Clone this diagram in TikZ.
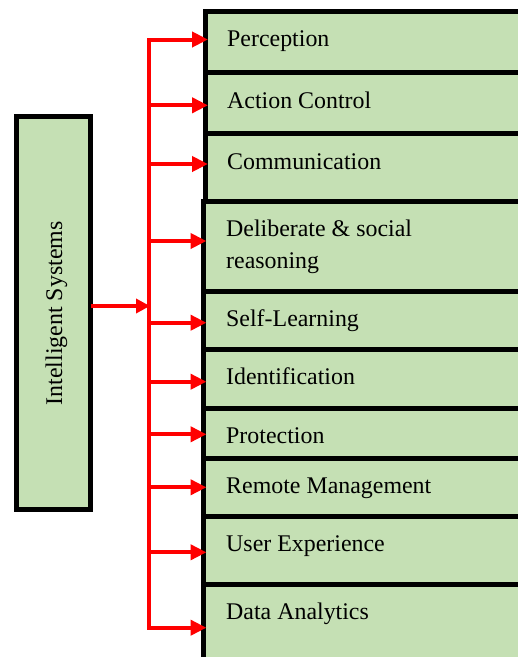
\documentclass[tikz,border=0pt]{standalone}
\usepackage{fontspec}
\setmainfont{Liberation Serif}
\usetikzlibrary{arrows.meta}
\definecolor{boxgreen}{RGB}{197,224,180}
\definecolor{linkred}{RGB}{255,0,0}
\begin{document}
\begin{tikzpicture}[x=1pt,y=-1pt,
  itembox/.style={draw=black,line width=5pt,fill=boxgreen,inner sep=0pt,outer sep=0pt,
    minimum width=340pt,anchor=north west},
  mainbox/.style={draw=black,line width=5pt,fill=boxgreen,inner sep=0pt,outer sep=0pt,
    minimum width=74pt,minimum height=393pt},
  label/.style={inner sep=0pt,anchor=base west,font=\fontsize{23.9}{32.3}\selectfont},
  bus/.style={linkred,line width=4pt},
  branch/.style={linkred,line width=4pt,-{Triangle[length=16pt,width=15pt]},shorten >=-3pt},
  feed/.style={linkred,line width=4pt,-{Triangle[length=14pt,width=14pt]},shorten >=-1pt}]
\useasboundingbox (0,0) rectangle (518,657);
\clip (0,0) rectangle (518,657);

% left root box
\node[mainbox] (root) at (53.5,313) {};
\node[inner sep=0pt,anchor=base,rotate=90,font=\fontsize{23.9}{32.3}\selectfont]
  (roottext) at (62,313.3) {Intelligent Systems};

% stacked item boxes
\node[itembox,minimum height=60.8pt] (b1) at (205,11.7) {};
\node[itembox,minimum height=61pt]   (b2) at (205,72.5) {};
\node[itembox,minimum height=68.2pt] (b3) at (205,133.5) {};
\node[itembox,minimum height=89.3pt] (b4) at (203.5,201.7) {};
\node[itembox,minimum height=58.7pt] (b5) at (203.5,291) {};
\node[itembox,minimum height=58.6pt] (b6) at (203.5,349.7) {};
\node[itembox,minimum height=49.7pt] (b7) at (203.5,408.3) {};
\node[itembox,minimum height=58.5pt] (b8) at (203.5,458) {};
\node[itembox,minimum height=68.3pt] (b9) at (203.5,516.5) {};
\node[itembox,minimum height=100pt]  (b10) at (203.5,584.8) {};

% item labels
\node[label] (t1) at (227,46.7) {Perception};
\node[label] (t2) at (227,108.3) {Action Control};
\node[label] (t3) at (227,169) {Communication};
\node[label] (t4) at (226,236) {\parbox[t]{250pt}{\raggedright Deliberate \& social\\reasoning}};
\node[label] (t5) at (226,326.7) {Self-Learning};
\node[label] (t6) at (226,384.3) {Identification};
\node[label] (t7) at (226,443.3) {Protection};
\node[label] (t8) at (226,493.3) {Remote Management};
\node[label] (t9) at (226,551.7) {User Experience};
\node[label] (t10) at (226,619.3) {Data Analytics};

% distribution bus
\coordinate (bustop) at (149,39.5);
\coordinate (busbot) at (149,627.7);
\draw[bus] (bustop) -- (busbot);

% feed from the root box into the bus
\coordinate (feedin) at (149,306);
\draw[feed] (root.east |- feedin) -- (feedin);

% branches to each item
\foreach \b/\y in {b1/39.5,b2/105.3,b3/164,b4/241,b5/322.7,b6/381.7,
                   b7/434.3,b8/487.3,b9/552.3,b10/627.7}{
  \coordinate (tap-\b) at (147,\y);
  \draw[branch] (tap-\b) -- (\b.west |- tap-\b);
}
\end{tikzpicture}
\end{document}
